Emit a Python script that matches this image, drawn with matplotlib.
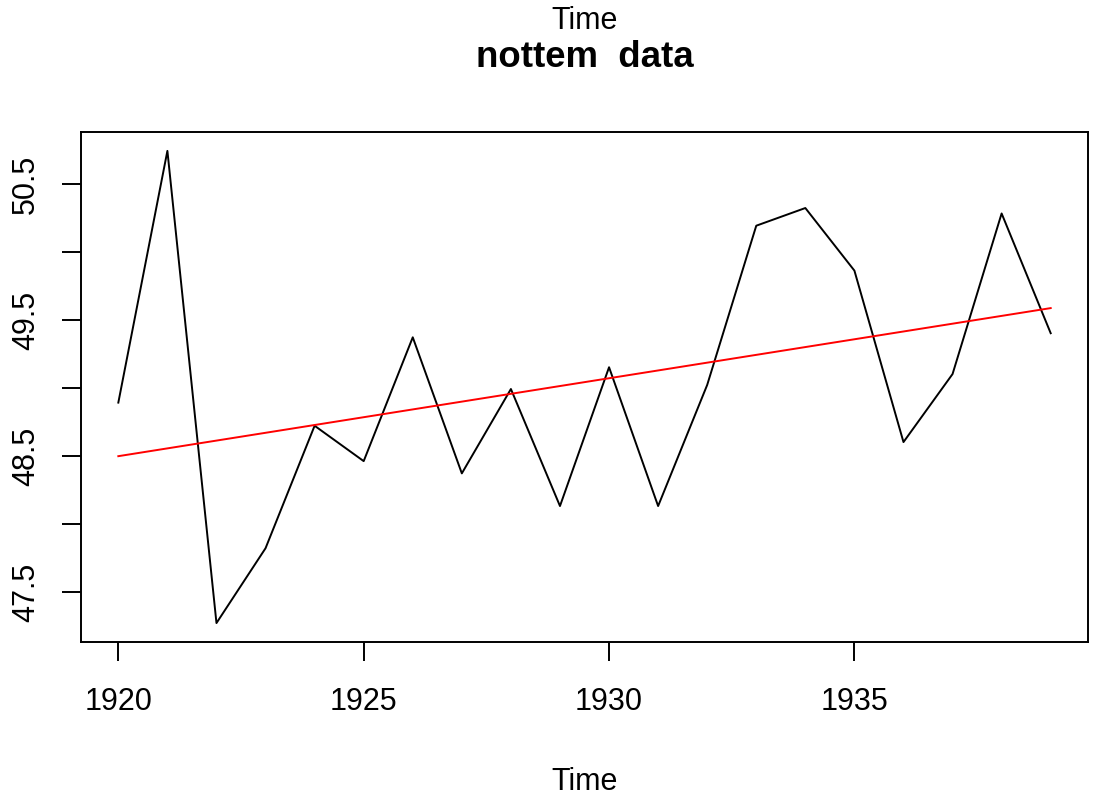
import numpy as np
import matplotlib
matplotlib.use("Agg")
import matplotlib.pyplot as plt

plt.rcParams['font.family'] = ['Liberation Sans', 'DejaVu Sans']

# yearly mean temperatures
years = list(range(1920, 1940))
temps = [48.89, 50.74, 47.27, 47.82, 48.72, 48.46, 49.37, 48.37, 48.99, 48.13,
         49.15, 48.13, 49.02, 50.19, 50.32, 49.86, 48.60, 49.10, 50.28, 49.40]
xticks = [1920, 1925, 1930, 1935]
yticks = [47.5, 48.0, 48.5, 49.0, 49.5, 50.0, 50.5]
ylabels = ["47.5", "", "48.5", "", "49.5", "", "50.5"]

x = np.array(years, dtype=float)
y = np.array(temps)

# linear trend (least squares)
slope, intercept = np.polyfit(x, y, 1)
trend = intercept + slope * x

fig = plt.figure(figsize=(10.95, 8.03), dpi=100)
ax = fig.add_axes([0.074, 0.1993, 0.9196, 0.6351])

ax.plot(x, y, color="black", lw=1.4)
ax.plot(x, trend, color="red", lw=1.4)

# R style 4% padding
xr = x.max() - x.min()
yr = y.max() - y.min()
ax.set_xlim(x.min() - 0.04 * xr, x.max() + 0.04 * xr)
ax.set_ylim(y.min() - 0.04 * yr, y.max() + 0.04 * yr)

ax.set_xticks(xticks)
ax.set_xticklabels([str(t) for t in xticks])
ax.set_yticks(yticks)
ax.set_yticklabels(ylabels, rotation=90, va="center")

for s in ax.spines.values():
    s.set_linewidth(1.4)
ax.tick_params(axis="both", direction="out", length=14, width=1.4, labelsize=22)
ax.tick_params(axis="x", pad=18)
ax.tick_params(axis="y", pad=15)

cx = 0.534  # centre of the plot region
fig.text(cx, 0.9639, "Time", ha="center", va="baseline", fontsize=22)
fig.text(cx, 0.917, "nottem  data", ha="center", va="baseline", fontsize=26.4, fontweight="bold")
fig.text(cx, 0.0162, "Time", ha="center", va="baseline", fontsize=22)

fig.savefig("out.png", dpi=100)
